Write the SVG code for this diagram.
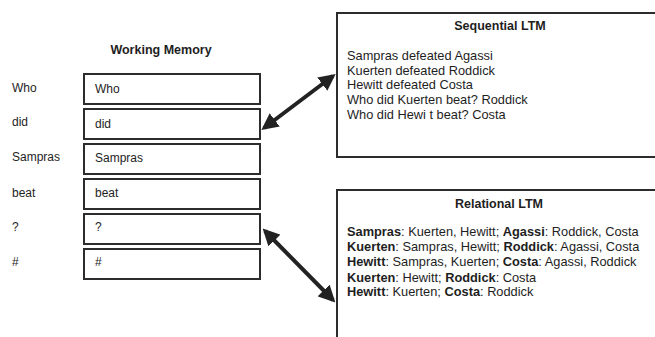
<svg xmlns="http://www.w3.org/2000/svg" width="655" height="337" viewBox="0 0 655 337">
  <style>
    text { font-family: "Liberation Sans", Arial, sans-serif; fill: #1e1e1e; }
    .title { font-size: 12.5px; font-weight: bold; text-anchor: middle; }
    .lbl { font-size: 12px; }
    .ltm { font-size: 12.8px; }
    .b { font-weight: bold; }
    .box { fill: #ffffff; stroke: #2c2c2c; stroke-width: 2; }
    .conn { stroke: #222; stroke-width: 4; fill: none; marker-start: url(#head); marker-end: url(#head); }
  </style>
  <defs>
    <marker id="head" viewBox="0 0 10 10" refX="8" refY="5" markerWidth="4.2" markerHeight="4.2" orient="auto-start-reverse" markerUnits="strokeWidth">
      <path d="M0,0 L10,5 L0,10 z" fill="#222"/>
    </marker>
  </defs>
  <rect width="655" height="337" fill="#ffffff"/>

  <g id="working-memory">
    <text class="title" x="161" y="54">Working Memory</text>
  </g>

  <g id="wm-who">
    <text class="lbl" x="12" y="92">Who</text>
    <rect class="box" x="84" y="74" width="176" height="30"/>
    <text class="lbl" x="95" y="93">Who</text>
  </g>
  <g id="wm-did">
    <text class="lbl" x="12" y="126">did</text>
    <rect class="box" x="84" y="109" width="176" height="30"/>
    <text class="lbl" x="95" y="128">did</text>
  </g>
  <g id="wm-sampras">
    <text class="lbl" x="12" y="161">Sampras</text>
    <rect class="box" x="84" y="144" width="176" height="30"/>
    <text class="lbl" x="95" y="162">Sampras</text>
  </g>
  <g id="wm-beat">
    <text class="lbl" x="12" y="197">beat</text>
    <rect class="box" x="84" y="179" width="176" height="30"/>
    <text class="lbl" x="95" y="197">beat</text>
  </g>
  <g id="wm-q">
    <text class="lbl" x="12" y="231">?</text>
    <rect class="box" x="84" y="214" width="176" height="30"/>
    <text class="lbl" x="95" y="231">?</text>
  </g>
  <g id="wm-hash">
    <text class="lbl" x="12" y="266">#</text>
    <rect class="box" x="84" y="249" width="176" height="30"/>
    <text class="lbl" x="95" y="266">#</text>
  </g>

  <g id="sequential-ltm">
    <rect class="box" x="337" y="13" width="330" height="144"/>
    <text class="title" x="500" y="30">Sequential LTM</text>
    <text class="ltm" x="347" y="60">Sampras defeated Agassi</text>
    <text class="ltm" x="347" y="75">Kuerten defeated Roddick</text>
    <text class="ltm" x="347" y="89">Hewitt defeated Costa</text>
    <text class="ltm" x="347" y="104">Who did Kuerten beat? Roddick</text>
    <text class="ltm" x="347" y="119">Who did Hewi t beat? Costa</text>
  </g>

  <g id="relational-ltm">
    <rect class="box" x="337" y="190" width="330" height="160"/>
    <text class="title" x="499" y="208">Relational LTM</text>
    <text class="ltm" x="347" y="236"><tspan class="b">Sampras</tspan>: Kuerten, Hewitt; <tspan class="b">Agassi</tspan>: Roddick, Costa</text>
    <text class="ltm" x="347" y="251"><tspan class="b">Kuerten</tspan>: Sampras, Hewitt; <tspan class="b">Roddick</tspan>: Agassi, Costa</text>
    <text class="ltm" x="347" y="266"><tspan class="b">Hewitt</tspan>: Sampras, Kuerten; <tspan class="b">Costa</tspan>: Agassi, Roddick</text>
    <text class="ltm" x="347" y="282"><tspan class="b">Kuerten</tspan>: Hewitt; <tspan class="b">Roddick</tspan>: Costa</text>
    <text class="ltm" x="347" y="296"><tspan class="b">Hewitt</tspan>: Kuerten; <tspan class="b">Costa</tspan>: Roddick</text>
  </g>

  <g id="connectors">
    <line class="conn" x1="264" y1="128" x2="333" y2="76"/>
    <line class="conn" x1="265" y1="231" x2="333" y2="300"/>
  </g>
</svg>
